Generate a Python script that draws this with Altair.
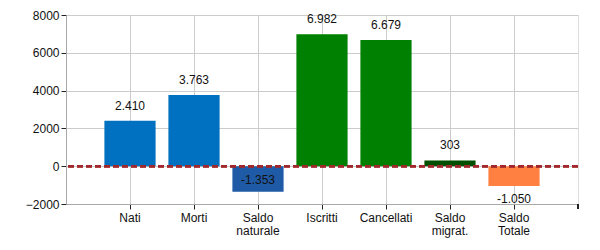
import altair as alt
import pandas as pd

categories = ["Nati", "Morti", "Saldo naturale", "Iscritti", "Cancellati", "Saldo migrat.", "Saldo Totale"]
values = [2410, 3763, -1353, 6982, 6679, 303, -1050]
colors = ["#0070c0", "#0070c0", "#1f5aa6", "#008000", "#008000", "#004f00", "#ff8040"]
label_side = ["above", "above", "inside", "above", "above", "above", "below"]
y_ticks = [-2000, 0, 2000, 4000, 6000, 8000]

def it_fmt(v):
    s = f"{abs(v):,}".replace(",", ".")
    return ("-" if v < 0 else "") + s

df = pd.DataFrame({
    "cat": categories,
    "val": values,
    "color": colors,
    "side": label_side,
    "label": [it_fmt(v) for v in values],
})

W, H = 512, 189
FONT = "Liberation Sans"

xaxis = alt.Axis(title=None, labelAngle=0, labelExpr="split(datum.label, ' ')",
                 grid=True, gridColor="#cccccc", domainColor="#a8a8a8",
                 tickColor="#222222", tickSize=5, labelFontSize=12,
                 labelLineHeight=13, labelFont=FONT, labelColor="#111111",
                 labelPadding=3, labelLimit=200, labelOverlap=False)
yaxis = alt.Axis(title=None, values=y_ticks, format="d", labelOverlap=False,
                 grid=True, gridColor="#cccccc", domainColor="#a8a8a8",
                 tickColor="#222222", tickSize=5, labelFontSize=12,
                 labelFont=FONT, labelColor="#111111", labelPadding=2,
                 labelBound=False, labelFlush=False)
xscale = alt.Scale(paddingInner=0.2, paddingOuter=0.6)
yscale = alt.Scale(domain=[-2000, 8000], nice=False, zero=False)

X = alt.X("cat:N", sort=categories, scale=xscale, axis=xaxis)
Y = alt.Y("val:Q", scale=yscale, axis=yaxis)

base = alt.Chart(df)

bars = base.mark_bar().encode(
    x=X, y=Y, y2=alt.datum(0),
    color=alt.Color("color:N", scale=None),
)

def labels(side, dy, baseline):
    return base.transform_filter(alt.datum.side == side).mark_text(
        fontSize=12, font=FONT, color="#111111", dy=dy, baseline=baseline
    ).encode(x=X, y=Y, text="label:N")

lab_above = labels("above", -8, "bottom")
lab_inside = labels("inside", -12, "middle")
lab_below = labels("below", 13, "middle")

zero = base.mark_rule(color="#a0282d", strokeWidth=2, strokeDash=[6, 3]).encode(
    y=alt.datum(0, scale=yscale, axis=yaxis)
)

edge_tick = base.mark_rule(color="#222222").encode(
    x=alt.value(W), y=alt.value(H), y2=alt.value(H + 5)
)

chart = alt.layer(bars, zero, lab_above, lab_inside, lab_below, edge_tick).properties(
    width=W, height=H,
    autosize=alt.AutoSizeParams(type="none"),
    padding={"left": 66, "top": 15, "right": 22, "bottom": 46},
).configure_view(stroke="#cccccc").configure(background="white")

chart.save("out.html", embed_options={"renderer": "svg", "actions": False})
